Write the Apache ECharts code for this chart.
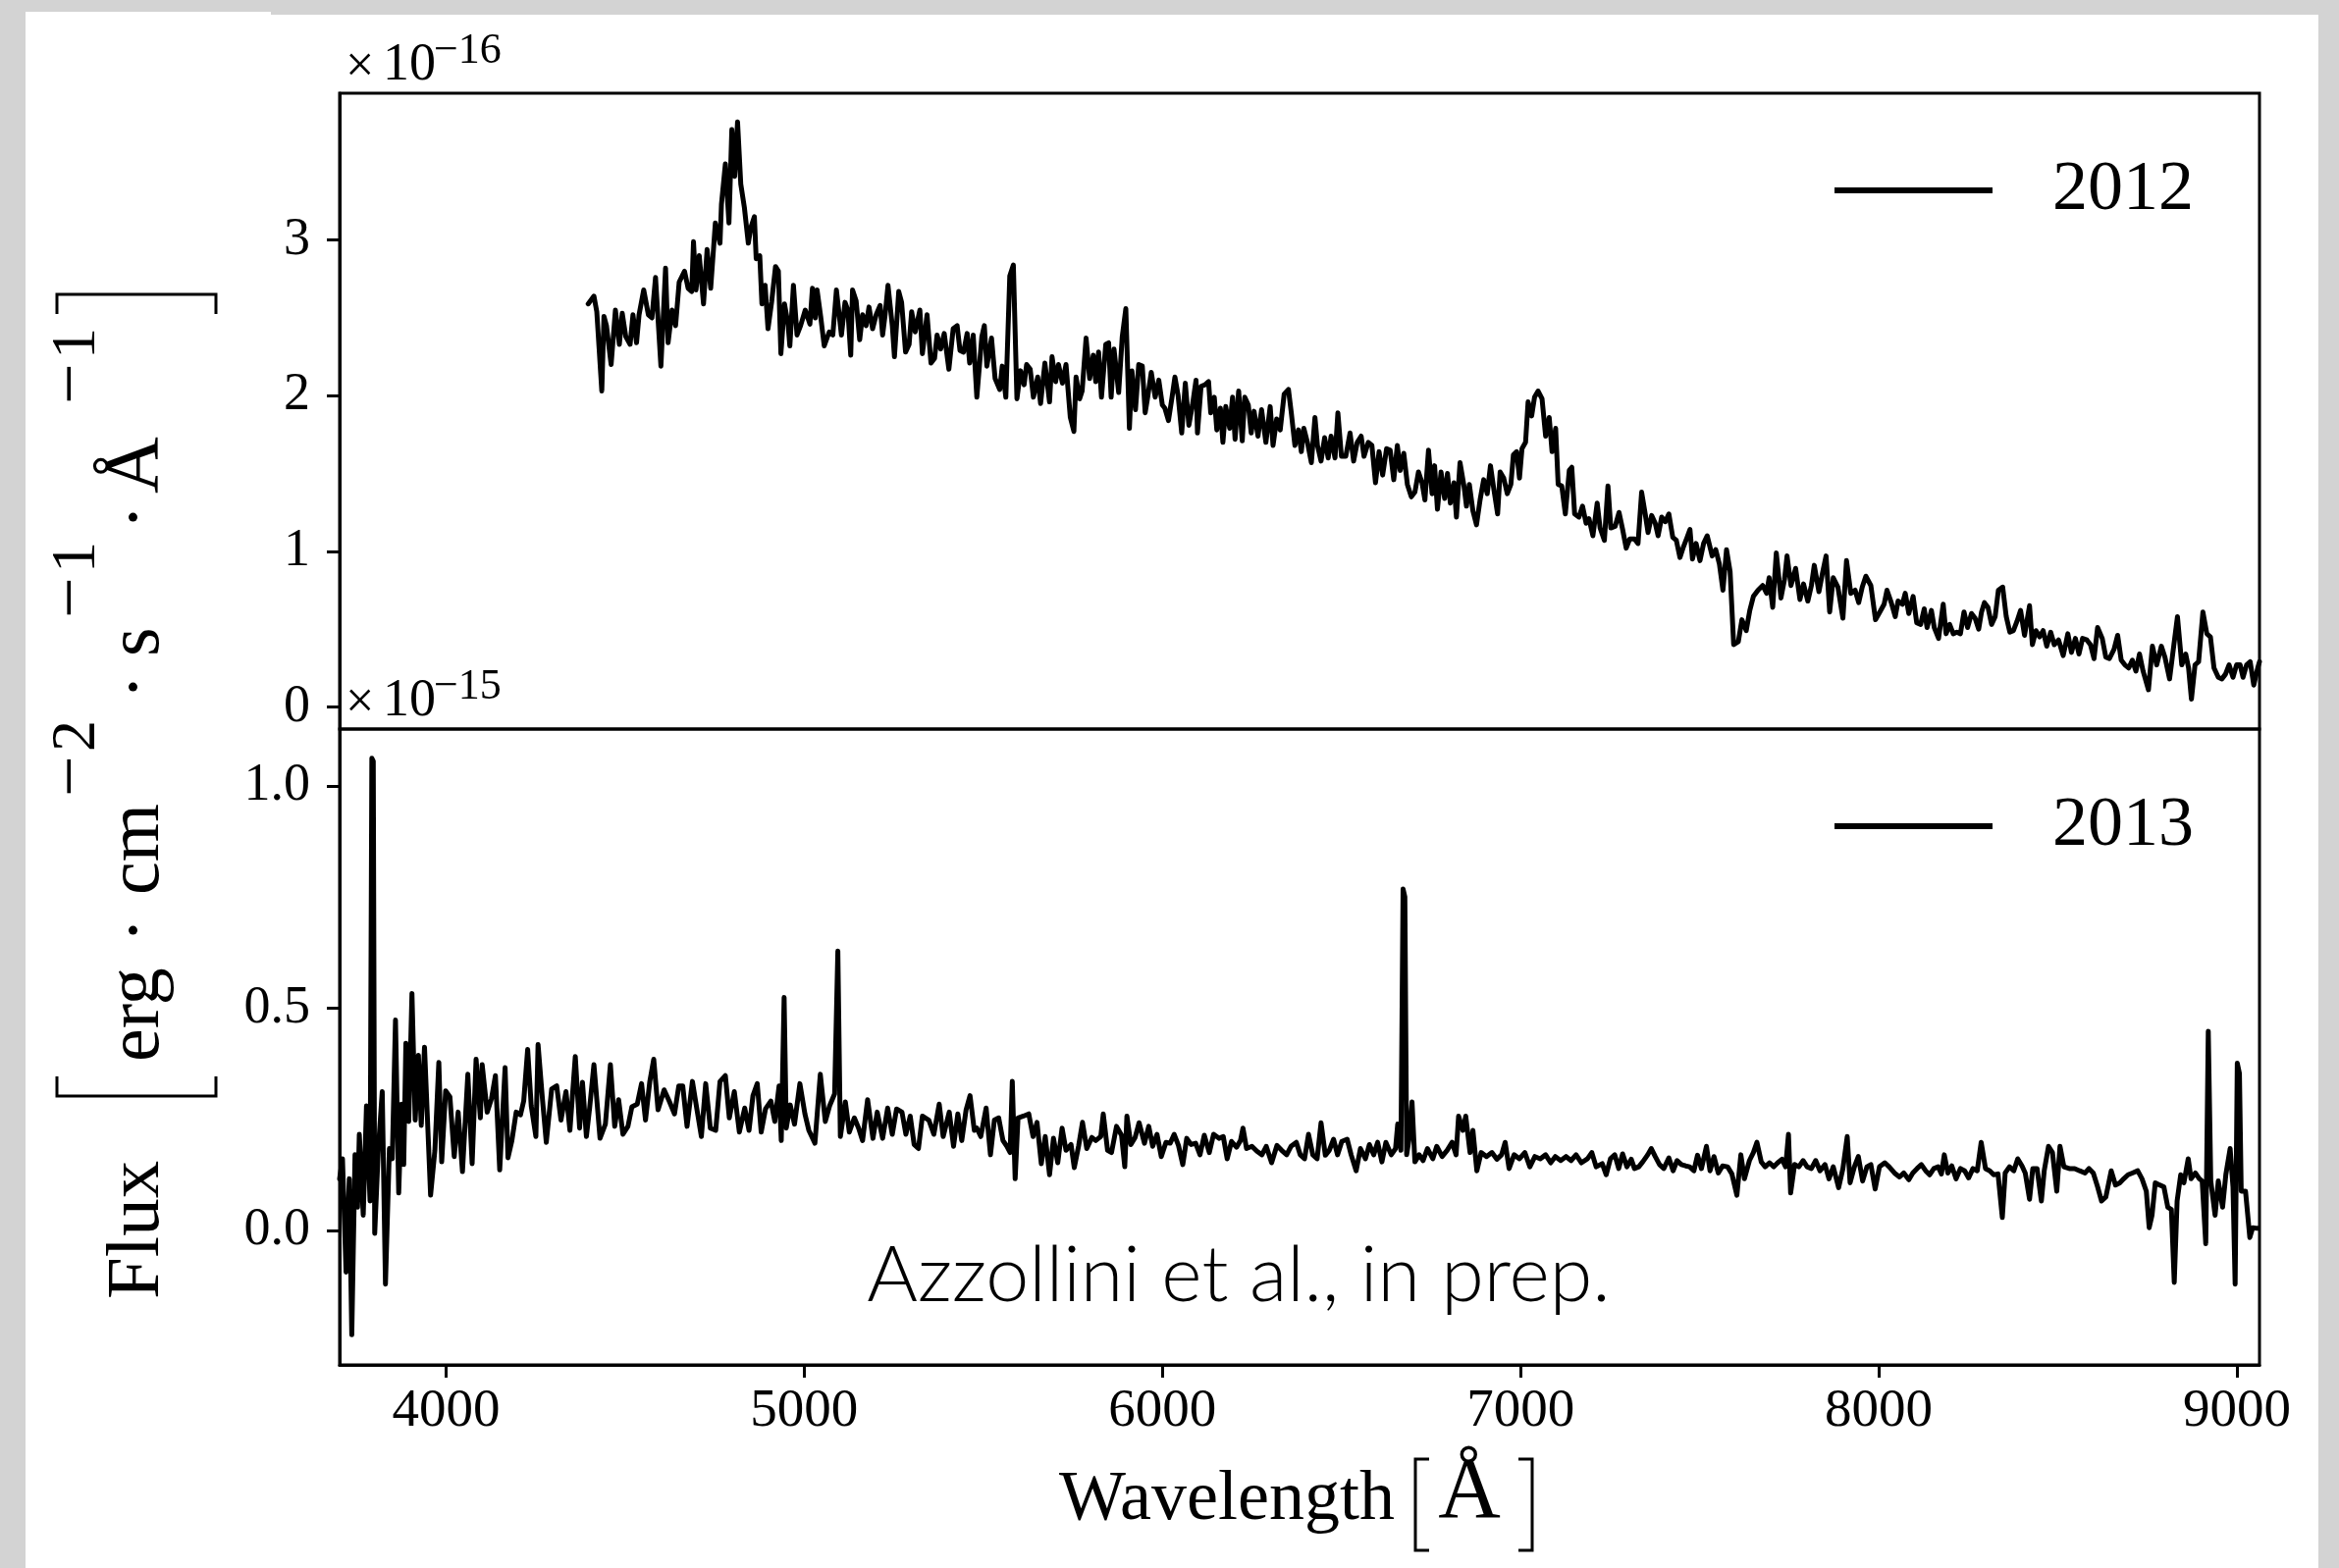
<!DOCTYPE html>
<html><head><meta charset="utf-8">
<script src="https://cdn.jsdelivr.net/npm/echarts@6/dist/echarts.min.js"></script>
<style>html,body{margin:0;padding:0;background:#d3d3d3;}#c{width:2383px;height:1598px;}</style>
</head><body><div id="c"></div>
<script>
// ---------------- data ----------------
const wl2012 = [4397,4413,4421,4435,4441,4448,4461,4473,4484,4492,4502,4514,4522,4532,4539,4552,4565,4575,4585,4600,4613,4620,4631,4641,4651,4666,4676,4686,4691,4698,4707,4719,4729,4739,4752,4765,4769,4780,4790,4798,4806,4814,4823,4833,4844,4851,4861,4866,4876,4882,4891,4899,4909,4920,4928,4935,4945,4955,4960,4970,4980,4990,5003,5016,5023,5031,5036,5046,5056,5070,5080,5090,5104,5114,5122,5130,5135,5145,5155,5163,5173,5181,5191,5201,5212,5219,5226,5234,5246,5252,5264,5272,5283,5293,5300,5310,5323,5330,5343,5354,5364,5371,5381,5391,5404,5416,5427,5435,5445,5455,5462,5472,5482,5496,5503,5510,5523,5533,5546,5553,5563,5574,5584,5594,5604,5614,5621,5631,5640,5652,5660,5672,5685,5692,5702,5710,5721,5731,5743,5753,5759,5769,5776,5787,5797,5807,5814,5822,5830,5842,5850,5857,5865,5878,5888,5898,5908,5915,5925,5934,5944,5952,5959,5969,5980,5990,6000,6007,6017,6027,6035,6044,6054,6064,6074,6084,6094,6098,6108,6119,6129,6135,6145,6152,6162,6169,6177,6188,6196,6203,6213,6223,6230,6240,6248,6256,6267,6277,6289,6301,6309,6319,6329,6340,6352,6360,6370,6380,6388,6395,6405,6416,6426,6433,6443,6453,6463,6471,6482,6490,6500,6512,6524,6534,6544,6555,6563,6575,6585,6595,6605,6615,6626,6636,6646,6656,6664,6674,6684,6695,6705,6715,6725,6733,6743,6753,6760,6768,6778,6788,6796,6804,6814,6821,6831,6842,6849,6857,6867,6877,6887,6897,6907,6916,6926,6936,6943,6953,6963,6973,6980,6989,6997,7004,7014,7021,7031,7039,7049,7060,7070,7080,7088,7098,7105,7115,7125,7136,7143,7151,7163,7173,7183,7191,7202,7214,7222,7234,7244,7252,7264,7275,7285,7295,7305,7318,7328,7338,7348,7356,7366,7376,7384,7394,7404,7414,7425,7435,7445,7455,7465,7473,7480,7490,7501,7511,7521,7535,7545,7555,7565,7575,7585,7595,7608,7618,7630,7640,7650,7663,7676,7687,7694,7704,7714,7727,7737,7744,7755,7768,7780,7790,7802,7812,7820,7833,7843,7853,7863,7873,7886,7900,7910,7922,7934,7944,7954,7964,7978,7991,8003,8015,8023,8035,8046,8054,8066,8074,8084,8096,8106,8117,8127,8135,8147,8155,8167,8180,8188,8198,8208,8218,8228,8238,8248,8259,8269,8279,8287,8295,8305,8315,8325,8334,8346,8356,8366,8376,8386,8396,8407,8421,8429,8439,8449,8459,8469,8480,8490,8502,8515,8528,8538,8549,8559,8569,8581,8591,8601,8611,8624,8634,8644,8657,8667,8677,8687,8698,8708,8718,8728,8738,8753,8764,8776,8789,8799,8812,8824,8834,8846,8857,8865,8873,8883,8893,8905,8916,8926,8936,8948,8958,8968,8978,8989,8999,9009,9017,9027,9037,9047,9058,9063];
const flux2012 = [2.59,2.64,2.54,2.03,2.51,2.45,2.20,2.55,2.33,2.53,2.38,2.33,2.52,2.34,2.52,2.68,2.52,2.50,2.76,2.19,2.82,2.34,2.55,2.45,2.73,2.80,2.69,2.67,2.99,2.68,2.90,2.59,2.94,2.69,3.11,2.98,3.23,3.49,3.11,3.71,3.41,3.76,3.36,3.21,2.98,3.08,3.15,2.88,2.90,2.59,2.71,2.43,2.60,2.83,2.80,2.27,2.59,2.46,2.32,2.71,2.39,2.45,2.55,2.46,2.69,2.50,2.68,2.51,2.32,2.41,2.39,2.68,2.39,2.60,2.55,2.26,2.68,2.61,2.36,2.52,2.45,2.57,2.43,2.52,2.58,2.39,2.52,2.71,2.45,2.25,2.67,2.60,2.28,2.33,2.54,2.41,2.55,2.27,2.52,2.21,2.24,2.39,2.30,2.40,2.17,2.43,2.45,2.29,2.28,2.40,2.21,2.39,1.99,2.38,2.45,2.19,2.37,2.11,2.04,2.19,1.99,2.77,2.84,1.98,2.16,2.07,2.20,2.17,1.99,2.12,1.95,2.21,1.96,2.25,2.09,2.20,2.08,2.20,1.86,1.77,2.12,1.98,2.03,2.37,2.11,2.26,2.09,2.28,1.99,2.33,2.34,1.99,2.30,2.02,2.38,2.56,1.79,2.16,1.91,2.20,2.19,1.89,1.99,2.15,1.99,2.10,1.94,1.92,1.84,1.99,2.12,2.00,1.76,2.08,1.81,1.94,2.10,1.76,2.06,2.07,2.09,1.89,1.99,1.78,1.92,1.70,1.93,1.79,1.99,1.72,2.03,1.71,1.99,1.94,1.76,1.90,1.74,1.91,1.70,1.93,1.68,1.85,1.78,2.01,2.04,1.89,1.68,1.78,1.64,1.79,1.70,1.57,1.86,1.68,1.58,1.73,1.60,1.74,1.60,1.89,1.61,1.61,1.76,1.58,1.70,1.74,1.61,1.70,1.68,1.44,1.64,1.49,1.66,1.65,1.46,1.68,1.52,1.63,1.43,1.35,1.38,1.51,1.44,1.33,1.65,1.37,1.55,1.27,1.51,1.34,1.50,1.31,1.44,1.22,1.57,1.42,1.29,1.43,1.26,1.17,1.33,1.46,1.37,1.55,1.39,1.24,1.51,1.47,1.37,1.43,1.62,1.64,1.47,1.66,1.70,1.96,1.87,1.99,2.03,1.98,1.74,1.86,1.64,1.79,1.43,1.42,1.24,1.52,1.54,1.24,1.22,1.29,1.18,1.21,1.10,1.31,1.15,1.07,1.42,1.15,1.16,1.25,1.14,1.02,1.08,1.08,1.05,1.38,1.24,1.12,1.23,1.18,1.10,1.22,1.19,1.24,1.09,1.07,0.96,1.03,1.09,1.14,0.95,1.05,0.94,1.05,1.10,0.97,1.01,0.92,0.75,1.01,0.87,0.40,0.42,0.56,0.49,0.62,0.71,0.75,0.78,0.73,0.83,0.64,0.99,0.70,0.82,0.97,0.78,0.89,0.69,0.79,0.68,0.78,0.91,0.74,0.86,0.97,0.61,0.83,0.77,0.57,0.94,0.73,0.75,0.67,0.77,0.84,0.78,0.56,0.61,0.66,0.75,0.67,0.58,0.68,0.66,0.73,0.60,0.71,0.54,0.53,0.63,0.51,0.62,0.51,0.44,0.66,0.47,0.53,0.47,0.48,0.47,0.61,0.51,0.60,0.57,0.50,0.61,0.67,0.64,0.53,0.58,0.75,0.77,0.58,0.48,0.49,0.55,0.62,0.46,0.65,0.40,0.49,0.45,0.49,0.39,0.48,0.40,0.43,0.33,0.47,0.35,0.44,0.34,0.44,0.43,0.40,0.31,0.51,0.44,0.32,0.31,0.37,0.46,0.30,0.27,0.25,0.30,0.23,0.34,0.23,0.11,0.39,0.27,0.39,0.32,0.18,0.40,0.58,0.27,0.34,0.25,0.05,0.27,0.29,0.61,0.47,0.45,0.25,0.19,0.18,0.21,0.27,0.19,0.27,0.27,0.19,0.27,0.29,0.14,0.25,0.29];

const wl2013 = [3703,3711,3721,3730,3737,3746,3753,3758,3769,3778,3788,3793,3797,3801,3811,3822,3831,3842,3850,3859,3868,3876,3882,3888,3896,3905,3914,3923,3931,3940,3957,3969,3980,3988,3999,4011,4023,4034,4046,4061,4073,4084,4096,4101,4115,4127,4138,4150,4165,4173,4184,4196,4208,4217,4228,4238,4251,4257,4269,4280,4295,4309,4321,4335,4346,4361,4373,4381,4392,4401,4413,4430,4445,4459,4471,4482,4494,4508,4519,4534,4546,4557,4569,4580,4592,4609,4623,4638,4650,4661,4673,4688,4699,4713,4725,4738,4753,4765,4780,4791,4805,4819,4834,4846,4857,4869,4880,4892,4907,4918,4930,4936,4944,4950,4961,4973,4988,5002,5013,5030,5045,5059,5071,5085,5094,5101,5115,5126,5140,5152,5163,5177,5192,5204,5219,5233,5246,5258,5273,5284,5296,5307,5319,5330,5348,5362,5377,5388,5405,5417,5429,5440,5452,5463,5475,5482,5493,5508,5520,5531,5543,5555,5566,5575,5581,5589,5597,5612,5627,5639,5650,5662,5673,5685,5696,5708,5720,5731,5745,5754,5766,5777,5789,5803,5814,5828,5835,5847,5858,5872,5886,5895,5901,5912,5924,5935,5950,5962,5973,5985,5997,6010,6022,6033,6045,6057,6068,6080,6093,6105,6117,6131,6143,6158,6170,6181,6193,6207,6218,6225,6235,6250,6264,6278,6290,6305,6320,6333,6347,6359,6374,6385,6397,6408,6420,6432,6443,6455,6466,6478,6489,6501,6516,6527,6541,6553,6567,6578,6590,6601,6613,6624,6639,6651,6657,6666,6672,6677,6682,6689,6697,6705,6717,6728,6740,6755,6766,6781,6795,6809,6820,6827,6839,6847,6859,6867,6878,6890,6905,6920,6934,6947,6957,6968,6982,6997,7012,7026,7040,7055,7070,7084,7097,7112,7127,7141,7155,7170,7187,7199,7211,7228,7239,7251,7263,7274,7285,7297,7309,7318,7330,7341,7355,7365,7376,7388,7400,7414,7426,7437,7449,7461,7472,7484,7494,7505,7519,7529,7540,7552,7564,7578,7590,7604,7615,7625,7639,7650,7660,7672,7683,7695,7707,7718,7730,7740,7748,7754,7765,7777,7789,7800,7812,7824,7836,7850,7861,7873,7888,7900,7912,7920,7932,7943,7955,7967,7978,7990,8002,8017,8029,8044,8058,8070,8084,8095,8107,8119,8131,8142,8154,8166,8175,8183,8193,8204,8216,8228,8240,8251,8263,8275,8286,8298,8310,8321,8333,8345,8353,8365,8377,8388,8400,8409,8421,8430,8442,8454,8462,8474,8485,8497,8506,8517,8532,8547,8561,8576,8587,8599,8611,8622,8634,8649,8661,8673,8684,8696,8708,8723,8735,8747,8755,8763,8772,8784,8796,8807,8817,8825,8833,8843,8852,8864,8872,8884,8895,8903,8913,8920,8927,8939,8948,8960,8969,8981,8989,8995,9001,9007,9012,9024,9036,9044,9053,9059];
const flux2013 = [0.116,0.161,-0.094,0.116,-0.235,0.170,0.052,0.216,0.034,0.280,0.066,1.062,1.055,-0.007,0.180,0.312,-0.121,0.184,0.161,0.473,0.084,0.284,0.148,0.421,0.245,0.533,0.248,0.394,0.236,0.412,0.079,0.180,0.378,0.154,0.314,0.300,0.166,0.266,0.132,0.351,0.150,0.385,0.253,0.373,0.266,0.296,0.348,0.136,0.366,0.163,0.202,0.266,0.260,0.291,0.407,0.280,0.211,0.418,0.298,0.198,0.318,0.325,0.248,0.312,0.225,0.391,0.230,0.333,0.211,0.275,0.373,0.207,0.239,0.373,0.234,0.294,0.216,0.234,0.278,0.284,0.330,0.248,0.335,0.385,0.271,0.316,0.291,0.262,0.325,0.325,0.234,0.335,0.280,0.211,0.330,0.230,0.225,0.335,0.348,0.253,0.312,0.221,0.275,0.225,0.303,0.330,0.221,0.273,0.291,0.245,0.325,0.202,0.524,0.230,0.282,0.239,0.330,0.262,0.225,0.196,0.351,0.245,0.280,0.307,0.628,0.211,0.289,0.221,0.253,0.230,0.202,0.294,0.207,0.266,0.207,0.275,0.216,0.273,0.266,0.216,0.257,0.193,0.184,0.257,0.248,0.216,0.284,0.211,0.266,0.189,0.262,0.202,0.271,0.303,0.225,0.230,0.211,0.275,0.170,0.248,0.253,0.202,0.189,0.175,0.335,0.116,0.253,0.257,0.262,0.211,0.243,0.150,0.211,0.125,0.207,0.152,0.230,0.180,0.193,0.141,0.189,0.243,0.184,0.209,0.202,0.211,0.262,0.180,0.175,0.234,0.214,0.143,0.257,0.193,0.209,0.242,0.196,0.234,0.189,0.216,0.166,0.198,0.196,0.216,0.191,0.148,0.207,0.193,0.196,0.170,0.214,0.175,0.216,0.207,0.211,0.161,0.200,0.187,0.202,0.230,0.184,0.189,0.178,0.170,0.189,0.152,0.191,0.180,0.170,0.189,0.198,0.170,0.161,0.216,0.170,0.161,0.242,0.169,0.180,0.205,0.170,0.200,0.205,0.170,0.134,0.184,0.161,0.193,0.170,0.198,0.154,0.198,0.170,0.184,0.239,0.180,0.768,0.750,0.170,0.207,0.289,0.154,0.170,0.157,0.184,0.161,0.189,0.166,0.180,0.198,0.170,0.257,0.225,0.257,0.175,0.225,0.134,0.175,0.166,0.175,0.160,0.170,0.198,0.139,0.170,0.161,0.175,0.143,0.166,0.161,0.170,0.152,0.166,0.157,0.166,0.157,0.170,0.152,0.161,0.175,0.143,0.150,0.125,0.161,0.170,0.139,0.172,0.143,0.160,0.139,0.143,0.154,0.170,0.184,0.166,0.148,0.139,0.163,0.134,0.157,0.148,0.145,0.143,0.134,0.169,0.139,0.189,0.134,0.166,0.129,0.145,0.143,0.127,0.079,0.170,0.116,0.157,0.175,0.198,0.154,0.143,0.152,0.143,0.152,0.160,0.143,0.216,0.084,0.148,0.143,0.157,0.143,0.139,0.157,0.134,0.148,0.116,0.143,0.096,0.139,0.211,0.107,0.143,0.166,0.111,0.143,0.148,0.093,0.143,0.152,0.143,0.129,0.120,0.129,0.114,0.129,0.139,0.148,0.134,0.125,0.139,0.143,0.127,0.170,0.129,0.145,0.116,0.139,0.134,0.118,0.139,0.134,0.198,0.139,0.134,0.125,0.127,0.029,0.129,0.143,0.134,0.161,0.145,0.129,0.070,0.139,0.139,0.066,0.134,0.189,0.175,0.088,0.189,0.143,0.139,0.139,0.134,0.129,0.139,0.129,0.098,0.066,0.075,0.134,0.102,0.107,0.116,0.125,0.129,0.134,0.116,0.088,0.006,0.034,0.107,0.102,0.098,0.052,0.047,-0.117,0.066,0.125,0.107,0.161,0.116,0.129,0.116,0.111,-0.030,0.448,0.111,0.034,0.111,0.052,0.125,0.184,0.098,-0.121,0.376,0.353,0.088,0.088,-0.016,0.006,0.005,0.005];

const xTicks = [4000, 5000, 6000, 7000, 8000, 9000];
const yTicksTop = [0, 1, 2, 3];
const yTicksBottom = [0, 0.5, 1.0];
const seriesNames = ['2012', '2013'];

// ---------------- chart ----------------
const SERIF = "'Liberation Serif', 'DejaVu Serif', serif";
const chart = echarts.init(document.getElementById('c'), null, {renderer: 'canvas'});

const G = [{left: 346, top: 95, width: 1956, height: 648}, {left: 346, top: 743, width: 1956, height: 648}];
const XMIN = 3703, XMAX = 9063;
const YB_MIN = -0.3026, YB_MAX = 1.1276;
const AXLINE = {show: true, onZero: false, lineStyle: {color: '#000', width: 3}};
const TICK = {color: '#000', width: 3};

function yAxisCfg(idx, min, max, ticks, fmt) {
  return {
    gridIndex: idx, type: 'value', min: min, max: max, position: 'left',
    axisLine: AXLINE, splitLine: {show: false},
    axisTick: {show: true, customValues: ticks, length: 13, lineStyle: TICK},
    axisLabel: {show: true, customValues: ticks, formatter: fmt, margin: 30, fontSize: 54, fontFamily: SERIF, color: '#000'}
  };
}

const bracketStyle = {stroke: '#000', lineWidth: 3, fill: null};

// rotated y-label pieces
const BASE_X = 167, SUP_X = 101;
function rotText(txt, y, fs, baseX, align) {
  return {type: 'text', x: baseX - 0.3375 * fs, y: y, rotation: Math.PI / 2, silent: true,
    style: {text: txt, x: 0, y: 0, fontSize: fs, fontFamily: SERIF, fill: '#000', align: align || 'left', verticalAlign: 'middle'}};
}
const yLabel = [
  rotText('Flux', 1324, 77, BASE_X),
  rotText('erg', 1082, 76, BASE_X),
  rotText('·', 948, 76, BASE_X, 'center'),
  rotText('cm', 912, 76, BASE_X),
  rotText('−', 812, 74, SUP_X),
  rotText('2', 766, 64, SUP_X),
  rotText('·', 700, 76, BASE_X, 'center'),
  rotText('s', 669, 76, BASE_X),
  rotText('−', 630, 74, SUP_X),
  rotText('1', 584, 64, SUP_X),
  rotText('·', 527, 76, BASE_X, 'center'),
  rotText('Å', 503, 80, BASE_X),
  rotText('−', 412, 74, SUP_X),
  rotText('1', 366, 64, SUP_X)
];

const option = {
  backgroundColor: '#d3d3d3',
  animation: false,
  grid: G.map(g => Object.assign({show: true, borderColor: '#000', borderWidth: 3, backgroundColor: 'transparent'}, g)),
  xAxis: [
    {gridIndex: 0, type: 'value', min: XMIN, max: XMAX, show: false, axisLine: {onZero: false}},
    {gridIndex: 1, type: 'value', min: XMIN, max: XMAX, position: 'bottom',
     axisLine: AXLINE, splitLine: {show: false},
     axisTick: {show: true, customValues: xTicks, length: 13, lineStyle: TICK},
     axisLabel: {show: true, customValues: xTicks, formatter: v => String(v), margin: 20, fontSize: 55, fontFamily: SERIF, color: '#000'}}
  ],
  yAxis: [
    yAxisCfg(0, -0.1425, 3.944, yTicksTop, v => String(Math.round(v))),
    yAxisCfg(1, YB_MIN, YB_MAX, yTicksBottom, v => v.toFixed(1))
  ],
  legend: [
    {data: [seriesNames[0]], left: 1869, top: 158, padding: 0, icon: 'rect', itemWidth: 161, itemHeight: 6,
     selectedMode: false, itemStyle: {color: '#000'},
     textStyle: {fontSize: 72, fontFamily: SERIF, color: '#000', padding: [0, 0, 0, 56]}},
    {data: [seriesNames[1]], left: 1869, top: 806, padding: 0, icon: 'rect', itemWidth: 161, itemHeight: 6,
     selectedMode: false, itemStyle: {color: '#000'},
     textStyle: {fontSize: 72, fontFamily: SERIF, color: '#000', padding: [0, 0, 0, 56]}}
  ],
  series: [
    {name: seriesNames[0], type: 'line', xAxisIndex: 0, yAxisIndex: 0, showSymbol: false, clip: true,
     color: '#000', itemStyle: {color: '#000'},
     lineStyle: {color: '#000', width: 5, cap: 'round', join: 'round'},
     data: wl2012.map((w, i) => [w, flux2012[i]])},
    {name: seriesNames[1], type: 'line', xAxisIndex: 1, yAxisIndex: 1, showSymbol: false, clip: true,
     color: '#000', itemStyle: {color: '#000'},
     lineStyle: {color: '#000', width: 5, cap: 'round', join: 'round'},
     data: wl2013.map((w, i) => [w, flux2013[i]])}
  ],
  graphic: [
    {type: 'rect', z: -10, silent: true, shape: {x: 26, y: 15, width: 2336, height: 1583}, style: {fill: '#fff'}},
    {type: 'rect', z: -10, silent: true, shape: {x: 26, y: 12, width: 250, height: 4}, style: {fill: '#fff'}},
    // offset texts
    {type: 'text', style: {text: '×', x: 352, y: 69, fontSize: 52, fontFamily: SERIF, fill: '#000', align: 'left', verticalAlign: 'middle'}},
    {type: 'text', style: {text: '10', x: 390, y: 67, fontSize: 54, fontFamily: SERIF, fill: '#000', align: 'left', verticalAlign: 'middle'}},
    {type: 'text', style: {text: '−16', x: 442, y: 52, fontSize: 44, fontFamily: SERIF, fill: '#000', align: 'left', verticalAlign: 'middle'}},
    {type: 'text', style: {text: '×', x: 352, y: 717, fontSize: 52, fontFamily: SERIF, fill: '#000', align: 'left', verticalAlign: 'middle'}},
    {type: 'text', style: {text: '10', x: 390, y: 715, fontSize: 54, fontFamily: SERIF, fill: '#000', align: 'left', verticalAlign: 'middle'}},
    {type: 'text', style: {text: '−15', x: 442, y: 700, fontSize: 44, fontFamily: SERIF, fill: '#000', align: 'left', verticalAlign: 'middle'}},
    // x label
    {type: 'text', style: {text: 'Wavelength', x: 1421, y: 1529, fontSize: 72, fontFamily: SERIF, fill: '#000', align: 'right', verticalAlign: 'middle'}},
    {type: 'text', style: {text: 'Å', x: 1497, y: 1523, fontSize: 88, fontFamily: SERIF, fill: '#000', align: 'center', verticalAlign: 'middle'}},
    {type: 'polyline', shape: {points: [[1456, 1487], [1442, 1487], [1442, 1580], [1456, 1580]]}, style: bracketStyle},
    {type: 'polyline', shape: {points: [[1547, 1487], [1561, 1487], [1561, 1580], [1547, 1580]]}, style: bracketStyle},
    // y label brackets
    {type: 'polyline', shape: {points: [[58, 1097], [58, 1117], [220, 1117], [220, 1097]]}, style: bracketStyle},
    {type: 'polyline', shape: {points: [[58, 320], [58, 300], [220, 300], [220, 320]]}, style: bracketStyle},
    // annotation
    {type: 'text', style: {text: 'Azzollini et al., in prep.', x: 1262, y: 1301, fontSize: 79, fontWeight: 300,
      fontFamily: "Lato, 'Open Sans', sans-serif", fill: '#000', align: 'center', verticalAlign: 'middle'}}
  ].concat(yLabel)
};
chart.setOption(option);
</script>
</body></html>
